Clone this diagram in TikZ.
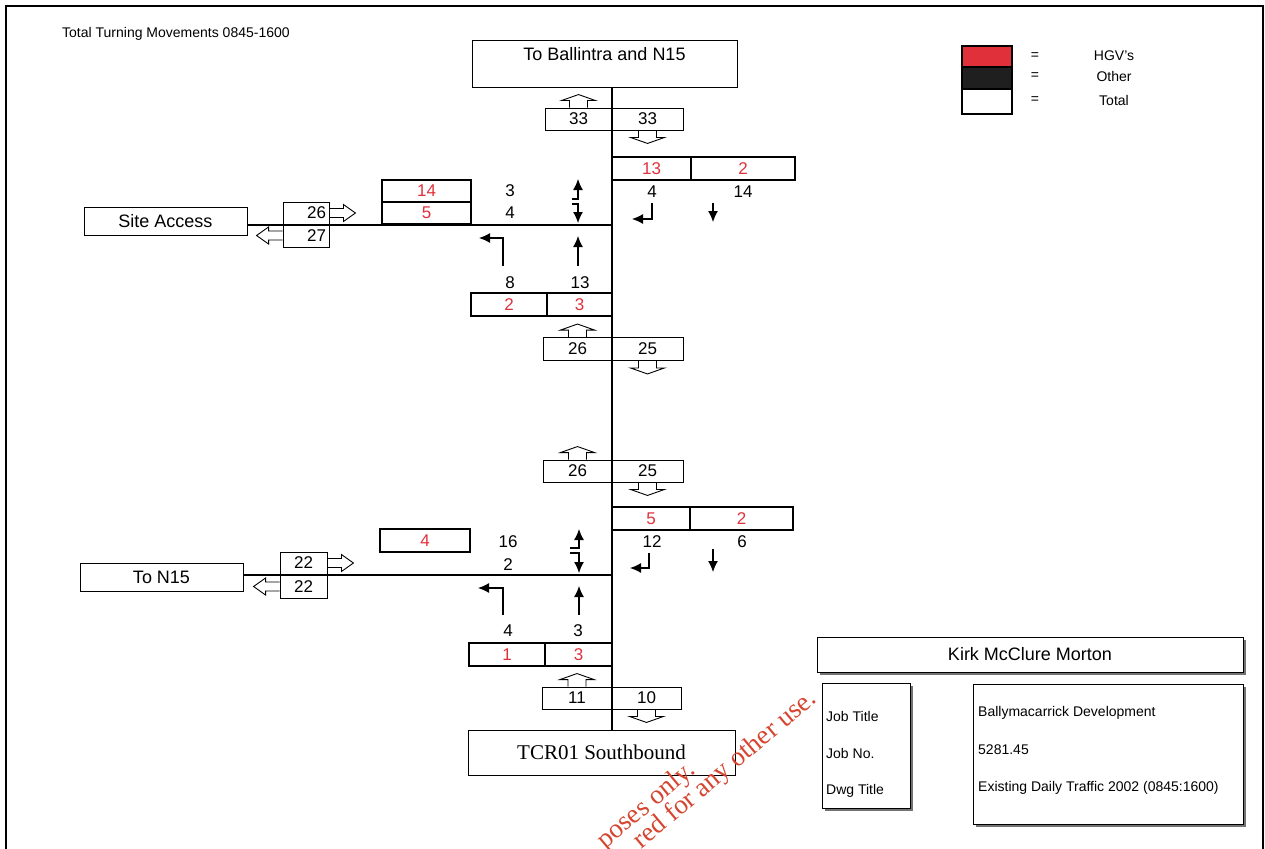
\documentclass[tikz,border=0pt]{standalone}
\usepackage{fontspec}
\setmainfont{Liberation Sans}
\newfontfamily\timesfont{Liberation Serif}
\usetikzlibrary{arrows.meta}
\usetikzlibrary{shadows}
\tikzset{>={Latex[length=11pt,width=10pt]}}
\usepackage{xcolor}
\definecolor{hgv}{HTML}{E0313B}
\definecolor{wmark}{HTML}{D5452F}
\tikzstyle{road}=[line width=1.1pt]
\tikzstyle{placebox}=[draw,line width=1pt,inner sep=0pt,font=\fontsize{18}{22}\selectfont]
\tikzstyle{flowbox}=[draw,line width=0.9pt,inner sep=0pt,font=\fontsize{17}{20}\selectfont]
\tikzstyle{hgvbox}=[draw,line width=1.8pt,inner sep=0pt,text=hgv,font=\fontsize{17}{20}\selectfont]
\tikzstyle{cnt}=[inner sep=0pt,font=\fontsize{17}{20}\selectfont]
\tikzstyle{turn}=[->,line width=1.2pt]
\tikzstyle{smalltext}=[inner sep=0pt,font=\fontsize{14}{17}\selectfont]
\tikzstyle{titlebox}=[draw,line width=1pt,fill=white,inner sep=0pt,
  drop shadow={shadow xshift=2.5pt,shadow yshift=-2.5pt,fill=black!55,opacity=1}]
\tikzstyle{wmtext}=[inner sep=0pt,text=wmark,font=\timesfont\fontsize{27}{30}\selectfont]
\newcommand{\flowarrow}[2]
{  % #1 = foot of arrow , #2 = rotation angle
  \begin{scope}[shift={(#1)},rotate=#2]
  \draw[line width=0.9pt] (-9,0) -- (-9,-7) -- (-17,-7) -- (0,-13) -- (17,-7) -- (9,-7) -- (9,0);
  \end{scope}
}
\newcommand{\sidearrow}[2]
{  % #1 = foot of arrow , #2 = rotation angle
  \begin{scope}[shift={(#1)},rotate=#2]
  \draw[line width=0.9pt] (-4.5,0) -- (-4.5,-14) -- (-8.5,-14) -- (0,-26) -- (8.5,-14) -- (4.5,-14) -- (4.5,0);
  \end{scope}
}

\begin{document}
\begin{tikzpicture}[x=1pt,y=-1pt]
  \useasboundingbox (0,0) rectangle (1265,848);
  \draw[line width=1.5pt] (6,880) -- (6,6) -- (1263,6) -- (1263,880);
  \node[smalltext,anchor=west] (heading) at (62,34) {Total Turning Movements 0845-1600};

  % roads
  \node[placebox,minimum width=265,minimum height=47,align=center] (ballintra) at (604.5,64.5) {To Ballintra and N15\\\mbox{}};
  \node[placebox,minimum width=267,minimum height=45,font=\timesfont\fontsize{21}{24}\selectfont] (tcr) at (601.5,752.5) {TCR01 Southbound};
  \node[placebox,minimum width=163,minimum height=28] (site) at (165.5,221) {Site Access};
  \node[placebox,minimum width=163,minimum height=28] (tonf) at (161.5,577) {To N15};
  \coordinate (mainx) at (612,0);
  \coordinate (jn) at (612,225);
  \coordinate (js) at (612,575);
  \draw[road] (ballintra.south -| mainx) -- (tcr.north -| mainx);
  \draw[road] (site.east |- jn) -- (jn);
  \draw[road] (tonf.east |- js) -- (js);

  % link flows
  \node[flowbox,minimum width=67,minimum height=22] (fa1) at (578.5,119) {33};
  \node[flowbox,minimum width=71,minimum height=22] (fa2) at (647.5,119) {33};
  \flowarrow{fa1.north}{0}
  \flowarrow{fa2.south}{180}
  \node[flowbox,minimum width=69,minimum height=23] (fb1) at (577.5,349) {26};
  \node[flowbox,minimum width=71,minimum height=23] (fb2) at (647.5,349) {25};
  \flowarrow{fb1.north}{0}
  \flowarrow{fb2.south}{180}
  \node[flowbox,minimum width=69,minimum height=22] (fc1) at (577.5,471) {26};
  \node[flowbox,minimum width=71,minimum height=22] (fc2) at (647.5,471) {25};
  \flowarrow{fc1.north}{0}
  \flowarrow{fc2.south}{180}
  \node[flowbox,minimum width=70,minimum height=22] (fd1) at (577,698) {11};
  \node[flowbox,minimum width=69,minimum height=22] (fd2) at (646.5,698) {10};
  \flowarrow{fd1.north}{0}
  \flowarrow{fd2.south}{180}
  \node[flowbox,minimum width=46,minimum height=22,text width=40,align=right] (fs1) at (306,213) {26};
  \node[flowbox,minimum width=46,minimum height=23,text width=40,align=right] (fs2) at (306,235.5) {27};
  \sidearrow{fs1.east}{-90}
  \sidearrow{fs2.west}{90}
  \node[flowbox,minimum width=47,minimum height=22] (fn1) at (303.5,563) {22};
  \node[flowbox,minimum width=47,minimum height=23] (fn2) at (303.5,586.5) {22};
  \sidearrow{fn1.east}{-90}
  \sidearrow{fn2.west}{90}

  % north junction
  \node[hgvbox,minimum width=79,minimum height=23] (nr1) at (651.5,168.5) {13};
  \node[hgvbox,minimum width=104,minimum height=23] (nr2) at (743,168.5) {2};
  \node[hgvbox,minimum width=89,minimum height=22] (nl1) at (426.5,191) {14};
  \node[hgvbox,minimum width=89,minimum height=22] (nl2) at (426.5,213) {5};
  \node[hgvbox,minimum width=76,minimum height=23] (nb1) at (509,304.5) {2};
  \node[hgvbox,minimum width=65,minimum height=23] (nb2) at (579.5,304.5) {3};
  \node[cnt] (nc1) at (652,192) {4};
  \node[cnt] (nc2) at (743,192) {14};
  \node[cnt] (nc3) at (510,191) {3};
  \node[cnt] (nc4) at (510,213) {4};
  \node[cnt] (nc5) at (510,283) {8};
  \node[cnt] (nc6) at (580,283) {13};
  \draw[turn] (652,203) |- (632,219);
  \draw[turn] (713,203) -- (713,222);
  \draw[turn] (572,199) -| (578,179);
  \draw[turn] (572,204) -| (578,223);
  \draw[turn] (503,266) |- (479,238);
  \draw[turn] (578,266) -- (578,236);

  % south junction
  \node[hgvbox,minimum width=78,minimum height=23] (sr1) at (651,518.5) {5};
  \node[hgvbox,minimum width=103,minimum height=23] (sr2) at (741.5,518.5) {2};
  \node[hgvbox,minimum width=90,minimum height=23] (sl1) at (425,540.5) {4};
  \node[hgvbox,minimum width=76,minimum height=23] (sb1) at (507,654.5) {1};
  \node[hgvbox,minimum width=67,minimum height=23] (sb2) at (578.5,654.5) {3};
  \node[cnt] (sc1) at (652,542) {12};
  \node[cnt] (sc2) at (742,542) {6};
  \node[cnt] (sc3) at (508,542) {16};
  \node[cnt] (sc4) at (508,565) {2};
  \node[cnt] (sc5) at (508,631) {4};
  \node[cnt] (sc6) at (578,631) {3};
  \draw[turn] (649,553) |- (630,568);
  \draw[turn] (713,549) -- (713,572);
  \draw[turn] (570,548) -| (579,529);
  \draw[turn] (570,553) -| (579,573);
  \draw[turn] (503,615) |- (478,588);
  \draw[turn] (579,615) -- (579,586);

  % key
  \node[draw,line width=1.5pt,fill=hgv,minimum width=50,minimum height=21] (keyh) at (987,56.5) {};
  \node[draw,line width=1.5pt,fill=black!88,minimum width=50,minimum height=22] (keyo) at (987,78) {};
  \node[draw,line width=1.5pt,fill=white,minimum width=50,minimum height=25] (keyt) at (987,101.5) {};
  \node[smalltext] (eqh) at (1035,56) {=};
  \node[smalltext] (eqo) at (1035,76) {=};
  \node[smalltext] (eqt) at (1035,100) {=};
  \node[smalltext] (lbh) at (1114,56) {HGV's};
  \node[smalltext] (lbo) at (1114,76) {Other};
  \node[smalltext] (lbt) at (1114,100) {Total};

  % title block
  \node[titlebox,minimum width=426,minimum height=35,font=\fontsize{18}{22}\selectfont] (firm) at (1030,654.5) {Kirk McClure Morton};
  \node[titlebox,minimum width=88,minimum height=125] (jobl) at (866,745.5) {};
  \node[titlebox,minimum width=270,minimum height=140] (jobr) at (1108,754) {};
  \node[smalltext,anchor=west] (jt) at (826,716) {Job Title};
  \node[smalltext,anchor=west] (jno) at (826,753) {Job No.};
  \node[smalltext,anchor=west] (dt) at (826,791) {Dwg Title};
  \node[smalltext,anchor=west] (jtv) at (978,713) {Ballymacarrick Development};
  \node[smalltext,anchor=west] (jnov) at (978,750) {5281.45};
  \node[smalltext,anchor=west] (dtv) at (978,788) {Existing Daily Traffic 2002 (0845:1600)};

  % stamp
  \node[wmtext,rotate=40,anchor=base east] (wm1) at (697,772) {poses only.};
  \node[wmtext,rotate=40,anchor=base east] (wm2) at (818,701) {red for any other use.};
\end{tikzpicture}
\end{document}
